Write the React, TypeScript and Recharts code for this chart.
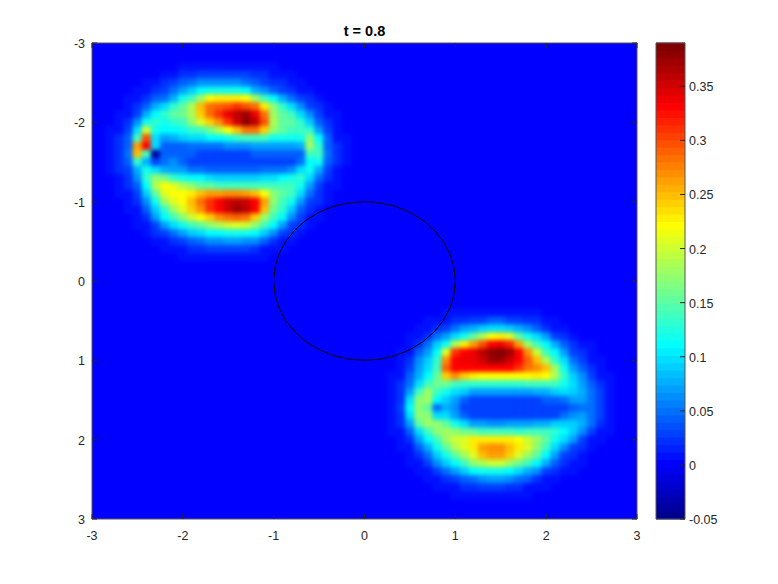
import { ScatterChart, Scatter, XAxis, YAxis, CartesianGrid, Label } from 'recharts'

// values are in hundredths, one row per y step of 0.1
const blobAX = [-2.8, -2.7, -2.6, -2.5, -2.4, -2.3, -2.2, -2.1, -2.0, -1.9, -1.8, -1.7, -1.6, -1.5, -1.4, -1.3, -1.2, -1.1, -1.0, -0.9, -0.8, -0.7, -0.6, -0.5, -0.4, -0.3, -0.2]
const blobAY = [-2.7, -2.6, -2.5, -2.4, -2.3, -2.2, -2.1, -2.0, -1.9, -1.8, -1.7, -1.6, -1.5, -1.4, -1.3, -1.2, -1.1, -1.0, -0.9, -0.8, -0.7, -0.6, -0.5, -0.4, -0.3]
const blobARows = [
  [0, 0, 0, 0, 0, 0, 0, 0, 1, 1, 1, 1, 1, 1, 1, 1, 1, 1, 1, 0, 0, 0, 0, 0, 0, 0, 0],
  [0, 0, 0, 0, 0, 0, 1, 1, 2, 2, 3, 3, 3, 3, 3, 3, 2, 2, 1, 1, 1, 0, 0, 0, 0, 0, 0],
  [0, 0, 0, 0, 1, 1, 2, 3, 4, 5, 6, 6, 6, 6, 6, 5, 4, 3, 2, 2, 1, 1, 0, 0, 0, 0, 0],
  [0, 0, 0, 1, 1, 2, 3, 5, 7, 9, 11, 12, 12, 12, 12, 11, 8, 6, 4, 3, 2, 1, 1, 0, 0, 0, 0],
  [0, 0, 1, 1, 2, 4, 5, 8, 12, 14, 18, 22, 23, 23, 23, 22, 18, 14, 11, 8, 5, 3, 2, 1, 0, 0, 0],
  [0, 0, 1, 2, 4, 8, 10, 13, 15, 19, 25, 28, 29, 30, 31, 30, 28, 23, 17, 13, 10, 6, 3, 2, 1, 0, 0],
  [0, 1, 1, 3, 8, 11, 13, 15, 16, 19, 24, 28, 31, 34, 36, 37, 34, 28, 18, 15, 14, 10, 6, 3, 1, 1, 0],
  [0, 1, 2, 6, 12, 13, 12, 13, 14, 17, 21, 24, 27, 31, 35, 38, 36, 30, 19, 15, 15, 13, 9, 4, 2, 1, 0],
  [1, 1, 3, 10, 20, 12, 11, 11, 12, 13, 14, 16, 19, 22, 25, 28, 28, 24, 17, 15, 14, 14, 13, 7, 3, 1, 0],
  [1, 2, 4, 14, 30, 10, 7, 8, 9, 10, 10, 11, 11, 12, 13, 14, 14, 14, 12, 12, 12, 12, 17, 11, 4, 1, 1],
  [1, 2, 4, 26, 33, 10, 4, 4, 4, 5, 5, 5, 5, 6, 6, 6, 7, 7, 7, 7, 7, 8, 18, 13, 4, 2, 1],
  [1, 2, 5, 25, 14, -4, 4, 4, 4, 4, 3, 3, 3, 3, 3, 3, 4, 4, 4, 4, 4, 4, 14, 14, 5, 2, 1],
  [1, 2, 4, 13, 8, 3, 5, 6, 4, 3, 3, 3, 3, 3, 3, 3, 3, 3, 3, 3, 3, 5, 11, 12, 4, 2, 1],
  [1, 2, 3, 8, 12, 10, 8, 7, 7, 5, 5, 4, 4, 4, 4, 4, 4, 5, 5, 5, 6, 10, 12, 8, 3, 1, 0],
  [0, 1, 2, 6, 13, 17, 16, 13, 12, 11, 11, 10, 9, 9, 9, 9, 9, 10, 10, 11, 12, 13, 10, 5, 2, 1, 0],
  [0, 1, 2, 4, 11, 19, 22, 21, 19, 17, 15, 15, 14, 14, 14, 14, 14, 14, 14, 14, 14, 12, 7, 3, 1, 1, 0],
  [0, 1, 1, 3, 9, 15, 21, 22, 22, 23, 25, 26, 26, 27, 27, 26, 25, 22, 17, 15, 14, 10, 5, 2, 1, 0, 0],
  [0, 0, 1, 2, 6, 12, 18, 21, 22, 25, 28, 31, 33, 35, 36, 35, 33, 26, 17, 14, 12, 7, 3, 2, 1, 0, 0],
  [0, 0, 1, 1, 4, 9, 13, 18, 21, 24, 27, 31, 33, 35, 37, 36, 33, 25, 16, 13, 9, 4, 2, 1, 0, 0, 0],
  [0, 0, 0, 1, 2, 7, 11, 14, 17, 20, 22, 24, 27, 28, 29, 28, 24, 18, 14, 11, 6, 3, 1, 1, 0, 0, 0],
  [0, 0, 0, 1, 1, 3, 7, 10, 12, 14, 15, 17, 19, 20, 21, 20, 17, 14, 11, 7, 3, 2, 1, 0, 0, 0, 0],
  [0, 0, 0, 0, 1, 2, 3, 5, 7, 9, 10, 11, 11, 12, 12, 12, 11, 9, 6, 3, 2, 1, 0, 0, 0, 0, 0],
  [0, 0, 0, 0, 0, 1, 1, 2, 3, 4, 5, 6, 6, 7, 7, 6, 6, 4, 2, 1, 1, 0, 0, 0, 0, 0, 0],
  [0, 0, 0, 0, 0, 0, 1, 1, 1, 2, 2, 3, 3, 3, 3, 3, 2, 1, 1, 1, 0, 0, 0, 0, 0, 0, 0],
  [0, 0, 0, 0, 0, 0, 0, 0, 1, 1, 1, 1, 1, 1, 1, 1, 1, 1, 0, 0, 0, 0, 0, 0, 0, 0, 0],
]

const blobBX = [0.3, 0.4, 0.5, 0.6, 0.7, 0.8, 0.9, 1.0, 1.1, 1.2, 1.3, 1.4, 1.5, 1.6, 1.7, 1.8, 1.9, 2.0, 2.1, 2.2, 2.3, 2.4, 2.5, 2.6, 2.7]
const blobBY = [0.4, 0.5, 0.6, 0.7, 0.8, 0.9, 1.0, 1.1, 1.2, 1.3, 1.4, 1.5, 1.6, 1.7, 1.8, 1.9, 2.0, 2.1, 2.2, 2.3, 2.4, 2.5, 2.6, 2.7]
const blobBRows = [
  [0, 0, 0, 0, 0, 0, 1, 1, 1, 1, 1, 1, 1, 1, 1, 1, 1, 0, 0, 0, 0, 0, 0, 0, 0],
  [0, 0, 0, 0, 1, 1, 1, 2, 2, 3, 3, 4, 4, 3, 3, 2, 2, 1, 1, 0, 0, 0, 0, 0, 0],
  [0, 0, 0, 1, 1, 2, 3, 5, 7, 8, 9, 10, 10, 9, 8, 6, 4, 2, 1, 1, 0, 0, 0, 0, 0],
  [0, 0, 1, 1, 2, 5, 7, 10, 12, 15, 19, 22, 23, 21, 15, 12, 10, 7, 3, 2, 1, 0, 0, 0, 0],
  [0, 0, 1, 2, 5, 9, 12, 19, 23, 26, 30, 33, 34, 32, 26, 18, 14, 11, 8, 4, 2, 1, 1, 0, 0],
  [0, 1, 1, 4, 7, 11, 21, 31, 33, 34, 36, 38, 39, 37, 33, 27, 20, 14, 11, 7, 3, 2, 1, 0, 0],
  [0, 1, 2, 6, 9, 13, 27, 33, 34, 34, 35, 37, 37, 35, 33, 29, 25, 19, 13, 10, 5, 3, 1, 1, 0],
  [0, 1, 3, 7, 10, 14, 29, 33, 33, 33, 33, 33, 33, 33, 31, 28, 27, 25, 18, 12, 7, 4, 2, 1, 0],
  [1, 1, 4, 8, 11, 15, 24, 27, 24, 23, 22, 22, 22, 22, 22, 22, 23, 22, 19, 13, 9, 6, 3, 1, 1],
  [1, 2, 5, 10, 14, 16, 16, 14, 13, 13, 13, 13, 13, 13, 13, 14, 14, 14, 14, 12, 10, 7, 4, 2, 1],
  [1, 2, 7, 14, 18, 14, 12, 10, 9, 7, 7, 7, 7, 7, 7, 7, 8, 8, 9, 10, 9, 8, 5, 3, 1],
  [1, 2, 10, 17, 18, 11, 9, 7, 4, 3, 3, 3, 3, 3, 3, 3, 3, 4, 4, 5, 7, 7, 5, 3, 1],
  [1, 3, 11, 17, 15, 5, 8, 6, 3, 3, 3, 3, 3, 3, 3, 3, 3, 3, 3, 3, 4, 5, 5, 3, 1],
  [1, 2, 10, 17, 17, 10, 10, 7, 4, 3, 3, 3, 3, 3, 3, 3, 3, 3, 3, 5, 6, 7, 5, 3, 1],
  [1, 2, 7, 15, 18, 17, 15, 12, 10, 7, 7, 6, 6, 7, 7, 7, 8, 8, 9, 9, 9, 8, 5, 2, 1],
  [1, 1, 4, 10, 14, 17, 18, 17, 16, 15, 14, 14, 14, 14, 13, 14, 14, 14, 13, 11, 9, 6, 3, 1, 1],
  [0, 1, 2, 7, 11, 14, 18, 20, 21, 23, 23, 23, 23, 23, 22, 20, 18, 15, 12, 10, 7, 3, 1, 1, 0],
  [0, 1, 1, 4, 8, 12, 15, 19, 21, 23, 26, 27, 27, 25, 23, 21, 17, 14, 10, 6, 3, 2, 1, 0, 0],
  [0, 0, 1, 2, 5, 9, 12, 15, 18, 21, 25, 26, 26, 24, 21, 18, 15, 11, 7, 3, 2, 1, 0, 0, 0],
  [0, 0, 1, 1, 3, 6, 9, 11, 14, 17, 19, 20, 20, 18, 16, 14, 11, 8, 4, 2, 1, 1, 0, 0, 0],
  [0, 0, 0, 1, 1, 3, 5, 7, 9, 11, 12, 12, 12, 11, 10, 8, 6, 3, 2, 1, 1, 0, 0, 0, 0],
  [0, 0, 0, 0, 1, 1, 2, 3, 4, 5, 6, 7, 7, 6, 5, 4, 2, 1, 1, 0, 0, 0, 0, 0, 0],
  [0, 0, 0, 0, 0, 1, 1, 1, 2, 2, 3, 3, 3, 2, 2, 1, 1, 1, 0, 0, 0, 0, 0, 0, 0],
  [0, 0, 0, 0, 0, 0, 0, 1, 1, 1, 1, 1, 1, 1, 1, 1, 0, 0, 0, 0, 0, 0, 0, 0, 0],
]

const circleX = [1, 0.985, 0.94, 0.866, 0.766, 0.643, 0.5, 0.342, 0.174, 0, -0.174, -0.342, -0.5, -0.643, -0.766, -0.866, -0.94, -0.985, -1, -0.985, -0.94, -0.866, -0.766, -0.643, -0.5, -0.342, -0.174, 0, 0.174, 0.342, 0.5, 0.643, 0.766, 0.866, 0.94, 0.985, 1]
const circleY = [0, 0.174, 0.342, 0.5, 0.643, 0.766, 0.866, 0.94, 0.985, 1, 0.985, 0.94, 0.866, 0.766, 0.643, 0.5, 0.342, 0.174, 0, -0.174, -0.342, -0.5, -0.643, -0.766, -0.866, -0.94, -0.985, -1, -0.985, -0.94, -0.866, -0.766, -0.643, -0.5, -0.342, -0.174, 0]

const axisTicks = [-3, -2, -1, 0, 1, 2, 3]
const barTicks = [-0.05, 0, 0.05, 0.1, 0.15, 0.2, 0.25, 0.3, 0.35]
const vMin = -0.05
const vMax = 0.39
const levels = 64

function toCells(xs: number[], ys: number[], rows: number[][]) {
  const cells: { x: number; y: number; v: number }[] = []
  rows.forEach((row, j) =>
    row.forEach((v, i) => {
      if (v !== 0) cells.push({ x: xs[i], y: ys[j], v: v / 100 })
    }),
  )
  return cells
}

const heatCells = [...toCells(blobAX, blobAY, blobARows), ...toCells(blobBX, blobBY, blobBRows)]
const circle = circleX.map((x, i) => ({ x, y: circleY[i] }))
const barCells = Array.from({ length: levels }, (_, i) => ({
  x: 0.5,
  y: vMin + ((i + 0.5) * (vMax - vMin)) / levels,
  v: vMin + ((i + 0.5) * (vMax - vMin)) / levels,
}))

function jet(v: number) {
  const level = Math.max(0, Math.min(levels - 1, Math.floor(((v - vMin) / (vMax - vMin)) * levels)))
  const t = (level + 1) / levels
  const ramp = (c: number) => Math.round(255 * Math.max(0, Math.min(1, 1.5 - Math.abs(4 * t - c))))
  return `rgb(${ramp(3)},${ramp(2)},${ramp(1)})`
}

const font = '"Liberation Sans", sans-serif'
const ink = '#262626'
const frame = '#555'

function HeatCell({ cx, cy, payload }: any) {
  return <rect x={cx - 4.8} y={cy - 4.2} width={9.6} height={8.4} fill={jet(payload.v)} />
}

function BarCell({ cx, cy, payload }: any) {
  return <rect x={cx - 14.5} y={cy - 4.2} width={29} height={8.4} fill={jet(payload.v)} />
}

// Octave style ticks: the mark points into the plot, the label stays outside
function InnerTick({ x, y, payload, side, showLabel }: any) {
  const dx = side === 'left' ? 5 : side === 'right' ? -5 : 0
  const dy = side === 'bottom' ? -5 : side === 'top' ? 5 : 0
  const labelProps =
    side === 'bottom'
      ? { x, y: y + 21, textAnchor: 'middle' }
      : side === 'left'
        ? { x: x - 7, y: y + 5, textAnchor: 'end' }
        : { x: x + 4, y: y + 5, textAnchor: 'start' }
  return (
    <g>
      <line x1={x} y1={y} x2={x + dx} y2={y + dy} stroke={ink} strokeWidth={1} />
      {showLabel && (
        <text {...(labelProps as any)} fontFamily={font} fontSize={12.5} fill={ink}>
          {payload.value}
        </text>
      )}
    </g>
  )
}

const tickOn = (side: string, showLabel: boolean) => (props: any) => <InnerTick {...props} side={side} showLabel={showLabel} />
const noMark = () => <g />

const pageLayer = { position: 'absolute', left: 0, top: 0 } as const
const mainMargin = { top: 43, right: 141, bottom: 35, left: 52 }
const barMargin = { top: 43, right: 53, bottom: 65, left: 656 }
// the overlay axes need at least 1px of room or they are skipped
const mainFrameMargin = { top: 42, right: 140, bottom: 35, left: 52 }
const barFrameMargin = { top: 42, right: 53, bottom: 64, left: 655 }

export default function App() {
  return (
    <div style={{ position: 'absolute', left: 0, top: 0, width: 778, height: 584, background: '#fff' }}>
      <style>{'.heat-layer { filter: blur(2.2px); }'}</style>
      <div style={pageLayer}>
        <ScatterChart width={778} height={584} margin={mainMargin}>
          <CartesianGrid horizontal={false} vertical={false} fill="#0000ff" />
          <XAxis type="number" dataKey="x" domain={[-3, 3]} ticks={axisTicks} height={30} tick={false} axisLine={false} tickLine={false} />
          <YAxis type="number" dataKey="y" domain={[-3, 3]} ticks={axisTicks} reversed width={40} tick={false} axisLine={false} tickLine={false} />
          <Scatter className="heat-layer" data={heatCells} shape={HeatCell} isAnimationActive={false} />
          <Scatter data={circle} line={{ stroke: '#000', strokeWidth: 1 }} shape={noMark} isAnimationActive={false} />
        </ScatterChart>
      </div>
      <div style={pageLayer}>
        <ScatterChart width={778} height={584} margin={barMargin}>
          <XAxis type="number" dataKey="x" domain={[0, 1]} ticks={[]} height={0} tick={false} axisLine={false} tickLine={false} />
          <YAxis type="number" dataKey="y" domain={[vMin, vMax]} ticks={barTicks} orientation="right" width={40} tick={false} axisLine={false} tickLine={false} />
          <Scatter data={barCells} shape={BarCell} isAnimationActive={false} />
        </ScatterChart>
      </div>
      {/* frames, ticks and labels sit on top of the cells */}
      <div style={pageLayer}>
        <ScatterChart width={778} height={584} margin={mainFrameMargin}>
          <XAxis xAxisId="b" type="number" dataKey="x" domain={[-3, 3]} ticks={axisTicks} height={30} stroke={frame} tick={tickOn('bottom', true)} tickLine={false} tickSize={0} tickMargin={0} interval={0} />
          <XAxis xAxisId="t" type="number" dataKey="x" domain={[-3, 3]} ticks={axisTicks} orientation="top" height={1} stroke={frame} tick={tickOn('top', false)} tickLine={false} tickSize={0} tickMargin={0} interval={0}>
            <Label value="t = 0.8" position="top" offset={6} style={{ fontFamily: font, fontSize: 14.5, fontWeight: 700, fill: '#000' }} />
          </XAxis>
          <YAxis yAxisId="l" type="number" dataKey="y" domain={[-3, 3]} ticks={axisTicks} reversed width={40} stroke={frame} tick={tickOn('left', true)} tickLine={false} tickSize={0} tickMargin={0} interval={0} />
          <YAxis yAxisId="r" type="number" dataKey="y" domain={[-3, 3]} ticks={axisTicks} reversed orientation="right" width={1} stroke={frame} tick={tickOn('right', false)} tickLine={false} tickSize={0} tickMargin={0} interval={0} />
          <Scatter xAxisId="b" yAxisId="l" data={circle} shape={noMark} isAnimationActive={false} />
          <Scatter xAxisId="t" yAxisId="r" data={circle} shape={noMark} isAnimationActive={false} />
        </ScatterChart>
      </div>
      <div style={pageLayer}>
        <ScatterChart width={778} height={584} margin={barFrameMargin}>
          <XAxis xAxisId="b" type="number" dataKey="x" domain={[0, 1]} ticks={[]} height={1} stroke={frame} tick={false} tickLine={false} />
          <XAxis xAxisId="t" type="number" dataKey="x" domain={[0, 1]} ticks={[]} orientation="top" height={1} stroke={frame} tick={false} tickLine={false} />
          <YAxis yAxisId="l" type="number" dataKey="y" domain={[vMin, vMax]} ticks={[]} width={1} stroke={frame} tick={false} tickLine={false} />
          <YAxis yAxisId="r" type="number" dataKey="y" domain={[vMin, vMax]} ticks={barTicks} orientation="right" width={40} stroke={frame} tick={tickOn('right', true)} tickLine={false} tickSize={0} tickMargin={0} interval={0} />
          <Scatter xAxisId="b" yAxisId="l" data={barCells} shape={noMark} isAnimationActive={false} />
          <Scatter xAxisId="t" yAxisId="r" data={barCells} shape={noMark} isAnimationActive={false} />
        </ScatterChart>
      </div>
    </div>
  )
}
